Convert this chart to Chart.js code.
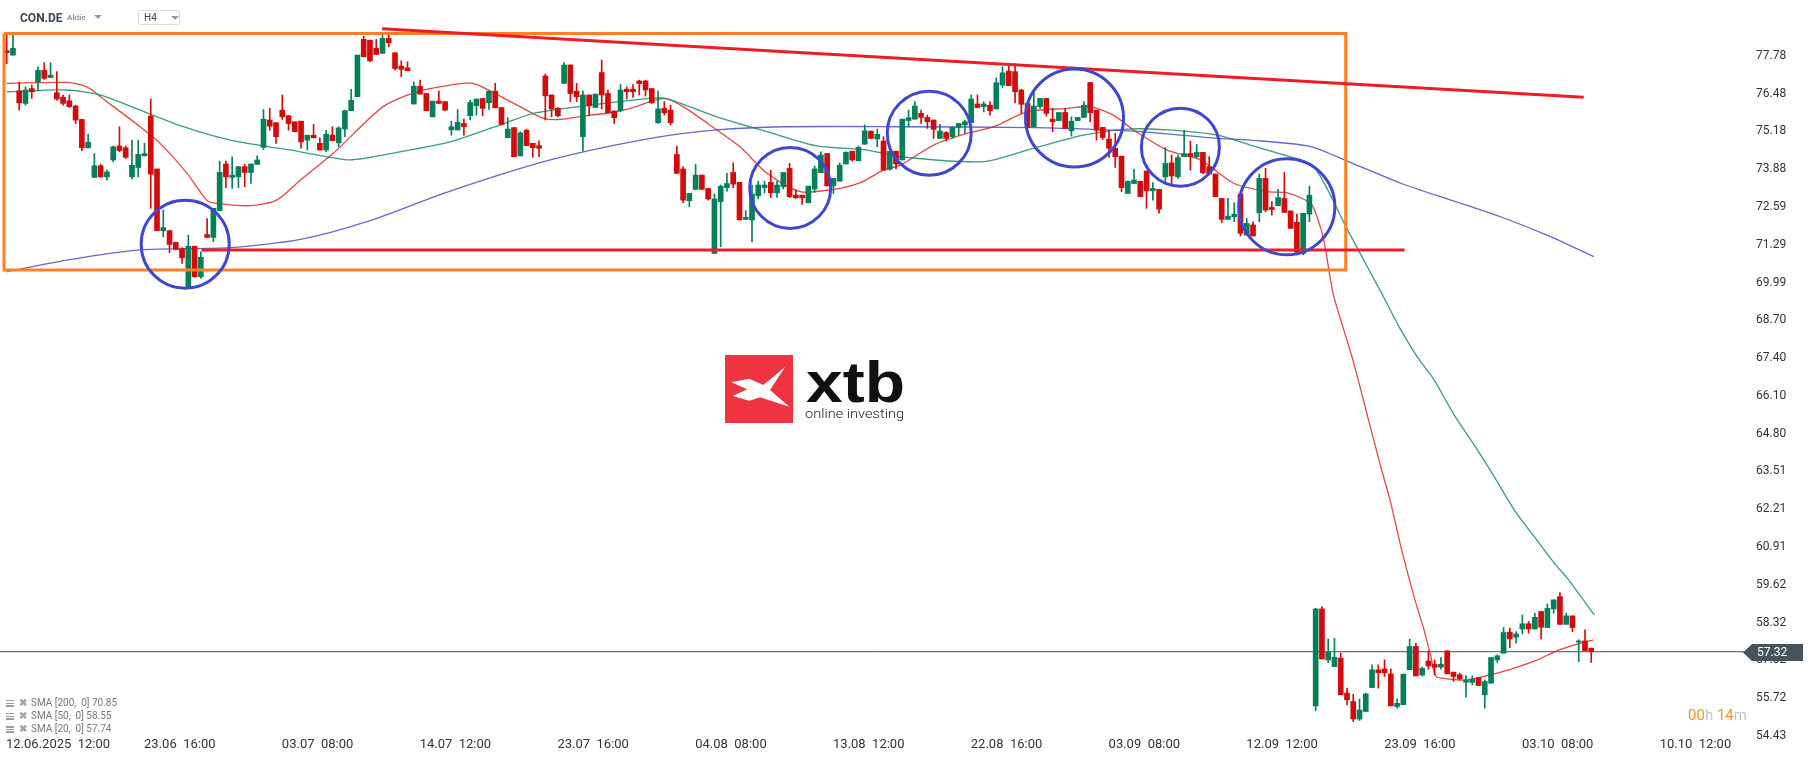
<!DOCTYPE html>
<html lang="de">
<head>
<meta charset="UTF-8" />
<title>CON.DE H4</title>
<script src="https://cdn.jsdelivr.net/npm/chart.js@4.4.1/dist/chart.umd.min.js"></script>
<style>
  html,body{margin:0;padding:0;background:#fff;overflow:hidden;}
  #wrap{position:relative;width:1815px;height:761px;font-family:Roboto,"Noto Sans",sans-serif;}
  #wrap canvas{position:absolute;left:0;top:0;}
  .abs{position:absolute;white-space:nowrap;}
  .sym{left:20px;top:10px;font-size:12px;font-weight:700;color:#3b4650;line-height:16px;}
  .kind{left:67px;top:13px;font-size:8px;font-weight:700;color:#9a9a9a;line-height:10px;}
  .tri{width:0;height:0;border-left:4px solid transparent;border-right:4px solid transparent;border-top:4px solid #9a9a9a;}
  .tf{left:138px;top:10px;width:42px;height:15px;border:1px solid #dcdcdc;border-radius:2px;box-sizing:border-box;}
  .tf span{position:absolute;left:5px;top:1px;font-size:10px;color:#444;line-height:12px;}
  .leg{left:6px;font-size:10px;color:#777;line-height:12px;}
  .leg i{display:inline-block;width:8px;height:7px;margin-right:5px;vertical-align:-1px;
         background:repeating-linear-gradient(#9c9c9c 0 1.5px,transparent 1.5px 2.7px);}
  .leg b{font-weight:700;color:#a4a4a4;font-size:10px;margin-right:4px;}
  .timer{left:1688px;top:706px;font-size:15px;line-height:18px;}
</style>
</head>
<body>
<div id="wrap">
  <canvas id="chart" width="1815" height="761"></canvas>

  <!-- header -->
  <div class="abs sym">CON.DE</div>
  <div class="abs kind">Aktie</div>
  <div class="abs tri" style="left:94px;top:15px"></div>
  <div class="abs tf"><span>H4</span><div class="abs tri" style="left:32px;top:5px"></div></div>

  <!-- indicator legend -->
  <div class="abs leg" style="top:697px"><i></i><b>✖</b>SMA [200,&nbsp; 0] 70.85</div>
  <div class="abs leg" style="top:710px"><i></i><b>✖</b>SMA [50,&nbsp; 0] 58.55</div>
  <div class="abs leg" style="top:723px"><i></i><b>✖</b>SMA [20,&nbsp; 0] 57.74</div>

  <!-- candle countdown -->
  <div class="abs timer"><span style="color:#f7941d">00</span><span style="color:#c4c4c4">h</span> <span style="color:#f7941d">14</span><span style="color:#c4c4c4">m</span></div>
</div>

<script>
/* ---------- data (H4 candles, index 0 = 12.06.2025 08:00) ---------- */
const opens = [
  77.95,77.80,76.57,76.14,76.65,76.88,77.28,77.03,76.51,76.35,76.23,76.05,75.59,74.62,73.60,74.00,73.62,74.20,74.68,74.62,
  73.62,73.94,74.34,75.71,73.89,71.77,71.77,71.37,71.16,69.85,71.24,70.19,71.64,71.54,72.46,74.06,73.60,73.62,73.97,73.77,
  74.05,74.63,75.57,75.48,75.91,75.72,75.51,75.53,74.88,75.05,74.77,74.54,75.05,74.79,75.26,75.89,76.37,78.34,78.31,78.03,
  77.86,78.37,77.88,77.42,77.36,76.12,76.73,76.48,75.68,76.22,76.20,75.23,75.23,75.45,75.72,76.06,76.31,76.16,76.56,76.00,
  74.96,75.31,74.34,75.22,74.77,74.69,77.08,76.43,75.97,76.83,77.46,76.56,75.00,76.43,76.00,77.20,76.48,75.88,75.89,76.63,
  76.63,76.91,76.91,76.65,75.48,75.97,75.91,74.39,73.89,72.80,73.19,73.68,73.22,70.99,72.77,73.25,73.77,73.43,72.16,72.14,
  72.97,73.25,73.43,73.07,73.28,73.91,72.99,72.99,72.73,73.20,73.76,74.42,73.31,73.47,74.06,74.50,74.17,74.74,75.19,74.92,
  74.85,73.88,74.50,74.20,75.55,75.60,75.80,75.66,75.57,74.94,75.14,75.00,75.32,75.40,75.48,76.12,76.03,76.08,75.95,76.77,
  77.25,77.23,76.60,76.14,75.34,76.03,76.31,75.60,75.55,75.83,75.20,75.55,75.66,76.86,75.91,75.32,74.92,74.60,74.33,73.05,
  73.39,73.47,73.82,73.14,73.19,73.62,74.10,73.62,74.31,74.42,74.31,74.46,73.97,73.72,72.88,72.16,72.25,73.03,71.62,71.97,
  72.39,73.57,72.57,72.63,72.88,72.45,72.06,70.99,72.34,55.46,58.79,57.04,56.81,57.10,55.90,55.61,55.01,55.27,56.09,56.70,
  56.73,56.56,55.44,55.50,56.70,57.50,56.52,57.00,56.89,56.79,57.35,56.62,56.53,56.27,56.27,56.43,55.84,56.24,57.04,57.27,
  57.99,57.82,58.10,58.28,58.10,58.70,58.15,58.79,59.21,58.26,58.55,57.65,57.69,57.44
];
const highs = [
  78.50,78.49,76.88,76.71,76.77,77.40,77.54,77.54,77.23,76.43,76.43,76.08,75.59,75.09,74.42,74.06,73.85,74.68,75.34,74.68,
  74.88,74.88,74.77,76.29,73.89,72.48,71.79,71.37,71.19,71.62,71.24,71.05,72.19,72.54,74.16,74.16,74.31,73.97,74.05,74.06,
  74.34,75.93,75.97,75.48,76.43,75.72,75.51,75.53,75.05,75.42,74.96,75.22,75.34,75.34,75.91,76.62,77.80,78.45,78.31,78.34,
  78.49,78.49,77.88,77.60,77.57,76.88,76.94,76.48,76.22,76.56,76.20,75.53,75.93,75.60,76.25,76.29,76.31,76.56,76.83,76.00,
  75.65,75.31,75.17,75.26,74.77,74.86,77.15,76.43,76.00,77.54,77.46,76.83,76.57,76.43,76.46,77.63,76.60,75.88,76.79,76.71,
  76.79,76.94,76.94,76.65,76.56,76.20,76.08,74.68,73.97,73.05,74.06,73.68,73.22,73.03,73.34,73.74,74.10,73.43,72.46,73.34,
  73.47,73.47,73.85,73.47,73.77,74.08,73.17,72.99,73.30,73.99,74.48,74.42,73.57,74.10,74.48,74.50,74.68,75.40,75.19,75.26,
  75.00,74.50,74.50,75.60,75.91,76.20,75.91,75.74,75.57,75.42,75.17,75.32,75.45,75.57,76.43,76.43,76.20,76.20,77.02,77.40,
  77.51,77.51,76.63,76.14,76.56,76.31,76.31,75.97,75.83,75.97,75.68,75.66,76.20,76.86,75.91,75.32,75.22,75.11,74.33,73.47,
  73.88,73.47,73.82,73.42,73.19,74.63,74.37,74.37,75.22,74.85,74.73,74.46,74.31,73.72,72.88,72.88,72.73,73.03,72.19,72.08,
  73.72,73.91,72.77,73.19,73.77,72.45,72.34,72.37,73.30,58.81,58.87,57.76,57.78,57.27,56.07,55.86,55.70,55.90,56.87,56.87,
  57.04,56.73,55.70,56.55,57.75,57.61,56.79,57.35,57.04,57.12,57.35,56.62,56.58,56.50,56.49,56.43,56.35,57.12,57.21,58.15,
  58.13,58.01,58.58,58.36,58.64,58.70,58.96,59.10,59.35,58.64,58.55,57.73,58.07,57.44
];
const lows = [
  77.50,77.80,75.91,76.08,76.31,76.57,76.96,77.03,76.25,76.08,76.00,75.45,74.52,74.60,73.60,73.60,73.51,74.14,74.48,74.25,
  73.55,73.62,74.34,72.54,71.77,71.56,71.02,71.11,70.65,69.85,70.17,70.13,71.54,71.39,72.46,73.25,73.22,73.25,73.28,73.39,
  74.05,74.56,75.22,74.77,75.59,75.22,75.17,74.60,74.54,74.96,74.54,74.48,74.86,74.65,75.00,75.89,76.37,77.74,77.57,77.82,
  77.86,78.08,77.28,77.06,77.26,76.12,76.46,75.89,75.68,76.14,75.89,75.05,75.23,75.05,75.57,75.74,75.72,75.93,75.99,75.40,
  74.96,74.31,74.34,74.69,74.29,74.31,75.57,75.68,75.68,76.83,76.20,76.20,74.50,75.72,76.00,75.95,75.82,75.45,75.85,76.29,
  76.35,76.43,76.39,76.14,75.45,75.74,75.40,73.74,72.73,72.59,73.19,73.19,72.82,70.99,71.22,73.13,73.25,72.14,72.16,71.39,
  72.86,73.07,72.91,72.91,73.20,72.91,72.88,72.67,72.73,73.09,73.76,73.31,73.05,73.47,74.06,74.16,74.17,74.74,74.94,74.65,
  73.85,73.85,73.89,74.20,75.34,75.60,75.45,75.28,74.94,74.94,74.86,74.94,75.05,75.11,75.48,76.00,75.85,75.74,75.95,76.69,
  76.75,76.16,75.80,75.32,75.34,75.97,75.71,75.17,75.55,75.28,75.02,75.55,75.66,75.51,74.88,74.90,74.29,73.94,73.11,73.05,
  73.39,72.94,72.54,72.82,72.37,73.45,73.34,73.57,74.31,73.85,74.28,73.72,73.72,72.94,72.05,72.16,72.08,71.59,71.62,71.59,
  72.08,72.42,72.31,72.63,72.40,71.85,70.94,70.94,72.08,55.30,57.07,56.95,56.81,55.84,55.50,54.92,54.96,55.27,56.09,56.07,
  56.47,55.46,55.38,55.50,56.70,56.49,56.49,56.72,56.53,56.72,56.56,56.30,56.35,55.76,56.18,56.16,55.38,56.24,56.95,57.27,
  57.46,57.61,57.93,57.96,58.10,57.76,58.15,58.64,58.26,58.26,58.01,56.98,57.36,56.95
];
const closes = [
  77.88,78.03,76.16,76.60,76.54,77.28,77.00,77.11,76.29,76.14,76.03,75.57,74.62,74.81,74.00,73.62,73.79,74.65,74.52,74.29,
  74.02,74.39,74.42,73.71,71.77,71.88,71.30,71.13,70.84,71.24,70.19,70.86,71.54,72.54,73.77,73.62,73.68,73.97,73.77,74.06,
  74.20,75.60,75.36,75.00,75.68,75.45,75.17,74.82,75.05,74.96,74.54,75.08,74.86,75.30,75.89,76.25,77.80,77.74,77.60,77.82,
  78.37,78.22,77.34,77.31,77.26,76.73,76.46,75.89,76.22,76.14,75.91,75.34,75.49,75.34,76.17,76.29,75.97,76.56,75.99,75.42,
  75.26,74.31,75.13,74.69,74.62,74.60,76.40,75.95,75.72,77.46,76.48,76.37,76.43,76.06,76.46,76.43,75.82,75.65,76.60,76.54,
  76.54,76.82,76.60,76.16,75.95,75.82,75.48,73.74,72.82,73.05,73.68,73.19,72.86,72.86,73.30,73.39,73.37,72.14,72.23,73.03,
  73.34,73.34,73.07,73.34,73.77,72.94,72.90,72.90,73.30,73.89,74.37,73.31,73.57,74.02,74.46,74.20,74.63,75.20,74.94,75.08,
  73.85,74.50,74.06,75.60,75.65,76.05,75.66,75.51,75.25,75.19,74.94,75.32,75.45,75.51,76.29,76.00,76.12,75.89,76.85,77.19,
  76.75,76.54,76.11,75.32,76.05,76.31,75.80,75.51,75.83,75.28,75.53,75.66,76.08,75.82,75.22,74.97,74.60,74.31,73.25,73.47,
  73.51,72.94,73.14,73.22,72.51,74.08,73.65,74.28,74.42,74.31,74.46,73.76,73.72,72.94,72.16,72.27,72.34,71.68,72.02,71.59,
  73.57,72.48,72.50,72.91,72.40,71.85,71.03,72.37,72.99,58.79,57.07,57.30,57.13,55.84,55.67,55.01,55.32,55.87,56.70,56.60,
  56.60,55.46,55.55,56.55,57.50,56.49,56.75,56.83,56.79,56.89,56.56,56.47,56.39,56.35,56.38,56.16,56.30,57.12,57.18,57.98,
  57.76,57.93,58.28,58.10,58.50,58.16,58.81,59.10,58.26,58.55,58.15,57.69,57.36,57.32
];

/* moving averages as [bar index, value] */
const sma200 = [
  [0,70.36],[9.6,70.76],[21.3,71.11],[35.7,71.19],[46.9,71.47],[57.5,72.08],[70.8,73.13],[86.8,74.20],
  [102.8,74.94],[113.4,75.23],[124,75.34],[142.7,75.34],[163.9,75.31],[179.9,75.19],[193.3,74.94],
  [198.6,74.88],[208.2,74.66],[214.6,74.11],[222.6,73.40],[230.6,72.82],[238.5,72.25],[246.5,71.57],[253.4,70.88]
];
const sma50 = [
  [0,76.54],[9.6,76.60],[14.9,76.43],[21.3,75.91],[28.2,75.34],[35.7,74.88],[46.9,74.48],[54.8,74.20],
  [62.8,74.48],[70.8,74.82],[78.8,75.40],[84.1,75.80],[92.1,76.05],[102.8,76.31],[105.5,76.30],[113.4,75.68],
  [121.4,75.17],[129.4,74.68],[137.4,74.54],[142.7,74.31],[156,74.14],[163.9,74.60],[171.9,75.05],[178.9,75.26],
  [185.3,75.23],[193.3,75.05],[198.6,74.71],[203.9,74.37],[208.6,74.00],[214.1,71.80],[217.8,70.31],[219.4,69.68],
  [222.3,68.48],[225.2,67.45],[227.9,66.65],[231.1,65.45],[234.3,64.42],[237.5,63.33],[240.7,62.19],[243.9,61.27],
  [247.1,60.36],[249.2,59.84],[253.5,58.58]
];
const sma20 = [
  [0,76.83],[9.6,76.86],[12.8,76.71],[16,76.20],[21.3,75.34],[24.5,74.77],[28.8,73.74],[31.9,72.82],[32.9,72.73],
  [38.9,72.63],[43.1,72.82],[46.9,73.51],[52.1,74.42],[60.1,76.03],[65.5,76.54],[70.8,76.77],[74.5,76.83],
  [81.5,76.08],[85.7,75.63],[88.4,75.59],[93.2,75.74],[96.4,75.82],[100,76.00],[104.9,76.31],[108,76.03],
  [113.4,75.23],[117.1,74.65],[121.4,73.74],[126.7,73.11],[132,73.19],[136.3,73.42],[140,73.85],[142.7,74.02],
  [148,74.71],[153.3,75.11],[157.6,75.34],[162.9,75.85],[169.3,75.97],[173,76.03],[176.7,75.74],[179.9,75.23],
  [185.3,74.54],[190.6,74.20],[195.9,73.40],[201.3,73.11],[204.5,73.07],[208.2,72.71],[209.3,72.20],[210.3,71.45],
  [211.8,69.60],[213.5,68.36],[215.1,67.22],[217.3,65.39],[219.4,63.67],[221,62.42],[222.6,60.93],[224.7,59.21],
  [226.3,58.07],[227.4,57.15],[228.2,56.47],[230,56.39],[233.2,56.35],[236.9,56.53],[240.6,56.75],[244.4,57.04],
  [247.6,57.36],[251.3,57.61],[253.3,57.73]
];

/* axis ticks */
const yTicks = [77.78,76.48,75.18,73.88,72.59,71.29,69.99,68.70,67.40,66.10,64.80,63.51,62.21,60.91,59.62,58.32,57.02,55.72,54.43];
const xTickIdx = [5,27,49,71,93,115,137,159,181,203,225,247,269];
const xTickText = ['12.06.2025  12:00','23.06  16:00','03.07  08:00','14.07  12:00','23.07  16:00','04.08  08:00',
  '13.08  12:00','22.08  16:00','03.09  08:00','12.09  12:00','23.09  16:00','03.10  08:00','10.10  12:00'];

/* drawings on the chart (bar index / price) */
const lastPrice = 57.32;
const supportLine = [[31.1,71.11],[223.2,71.11]];
const resistLine = [[59.95,78.70],[251.8,76.35]];
const rangeBox = [[-0.43,78.54],[213.8,78.54],[213.8,70.42],[-0.43,70.42],[-0.43,78.54]];
const circleIdx = [28.5,125.1,147.3,170.5,187.4,204.4];
const circlePrice = [71.31,73.24,75.12,75.64,74.64,72.59];
const circleRadius = [44,40.5,42,49,39,48];

/* ---------- chart ---------- */
const UP = '#03805a', DN = '#d30b0b';
const candleCol = opens.map((o,i)=> closes[i] >= o ? UP : DN);
const pts = a => a.map(([x,y])=>({x,y}));

const overlay = {
  id:'overlay',
  beforeDatasetsDraw(chart){
    // xtb watermark
    const c = chart.ctx;
    c.save();
    c.fillStyle = '#ef3340';
    c.fillRect(725,355,68,68);
    const poly = [[6.3,27.3],[24.3,23.7],[38.3,30],[60.3,11.7],[45,35],[64.3,51.7],[35,42.3],[24.3,45.7],[7.7,41],[22.3,34.3]];
    c.fillStyle = '#fff';
    c.beginPath();
    poly.forEach(([px,py],k)=> k ? c.lineTo(725+px,355+py) : c.moveTo(725+px,355+py));
    c.closePath(); c.fill();
    c.fillStyle = '#111';
    c.font = 'bold 58px "Liberation Sans", Arial, sans-serif';
    c.textBaseline = 'alphabetic';
    let w = c.measureText('xtb').width;
    c.translate(806,402); c.scale(99/w,1.0);
    c.fillText('xtb',0,0);
    c.setTransform(1,0,0,1,0,0);
    c.fillStyle = '#222';
    c.font = '300 13px Roboto, sans-serif';
    w = c.measureText('online investing').width;
    c.translate(805,417.5); c.scale(99/w,1);
    c.fillText('online investing',0,0);
    c.restore();
  },
  afterDraw(chart){
    const c = chart.ctx, xs = chart.scales.x, ys = chart.scales.y;
    c.save();
    // time axis labels
    c.font = '13px Roboto, sans-serif';
    c.fillStyle = '#333';
    c.textBaseline = 'middle';
    c.textAlign = 'left';
    xTickIdx.forEach((idx,k)=>{
      const t = xTickText[k], w = c.measureText(t).width;
      let x = xs.getPixelForValue(idx) + 4 - w/2;
      if (x < 6) x = 6;
      c.fillText(t, x, 745);
    });
    // last price badge
    const y = Math.round(ys.getPixelForValue(lastPrice)) + 0.5;
    c.fillStyle = '#44535e';
    c.beginPath();
    c.moveTo(1743,y); c.lineTo(1752,y-8.5); c.lineTo(1803,y-8.5); c.lineTo(1803,y+8.5); c.lineTo(1752,y+8.5);
    c.closePath(); c.fill();
    c.fillStyle = '#fff';
    c.font = '12px Roboto, sans-serif';
    c.fillText(lastPrice.toFixed(2), 1757, y+0.5);
    c.restore();
  }
};

const thinLine = (data,color,order) => ({
  type:'line', data:pts(data), borderColor:color, borderWidth:1.3,
  pointRadius:0, tension:0.25, order
});

new Chart(document.getElementById('chart'), {
  type:'bar',
  data:{ datasets:[
    { type:'line', data:pts([[-1.07,lastPrice],[277.55,lastPrice]]), borderColor:'#3f4e59', borderWidth:1, pointRadius:0, order:7 },
    thinLine(sma200,'rgba(72,80,190,0.85)',6),
    thinLine(sma50,'rgba(24,140,100,0.85)',6),
    thinLine(sma20,'rgba(222,40,40,0.85)',6),
    { type:'bar', data:lows.map((l,i)=>({x:i,y:[l,highs[i]]})), backgroundColor:candleCol,
      barThickness:1, grouped:false, order:4 },
    { type:'bar', data:opens.map((o,i)=>({x:i,y:[o,closes[i]]})), backgroundColor:candleCol,
      barThickness:5, minBarLength:1, grouped:false, order:3 },
    { type:'line', data:pts(rangeBox), borderColor:'#ff7f27', borderWidth:3, pointRadius:0, tension:0, order:2 },
    { type:'line', data:pts(supportLine), borderColor:'#ee1c25', borderWidth:3, pointRadius:0, order:1 },
    { type:'line', data:pts(resistLine), borderColor:'#ee1c25', borderWidth:3, pointRadius:0, order:1 },
    { type:'scatter', data:circleIdx.map((x,i)=>({x,y:circlePrice[i]})), pointRadius:circleRadius,
      pointBackgroundColor:'rgba(0,0,0,0)', pointBorderColor:'#3f46cf', pointBorderWidth:3, order:0 }
  ]},
  options:{
    responsive:false, animation:false, devicePixelRatio:1,
    layout:{ autoPadding:false, padding:{ left:0, right:0, top:0, bottom:21 } },
    plugins:{ legend:{display:false}, tooltip:{enabled:false} },
    events:[],
    scales:{
      x:{ type:'linear', min:-1.07, max:277.55, offset:false, display:false },
      y:{ type:'linear', position:'right', min:54.29, max:79.69,
          grid:{ display:false, drawTicks:false }, border:{ display:false },
          afterBuildTicks: s => { s.ticks = yTicks.map(v=>({value:v})); },
          afterFit: s => { s.width = 70; s.paddingTop = 0; s.paddingBottom = 0; },
          ticks:{ autoSkip:false, padding:11, color:'#333', font:{ family:'Roboto', size:12 },
                  callback: v => v.toFixed(2) } }
    }
  },
  plugins:[overlay]
});
</script>
</body>
</html>
